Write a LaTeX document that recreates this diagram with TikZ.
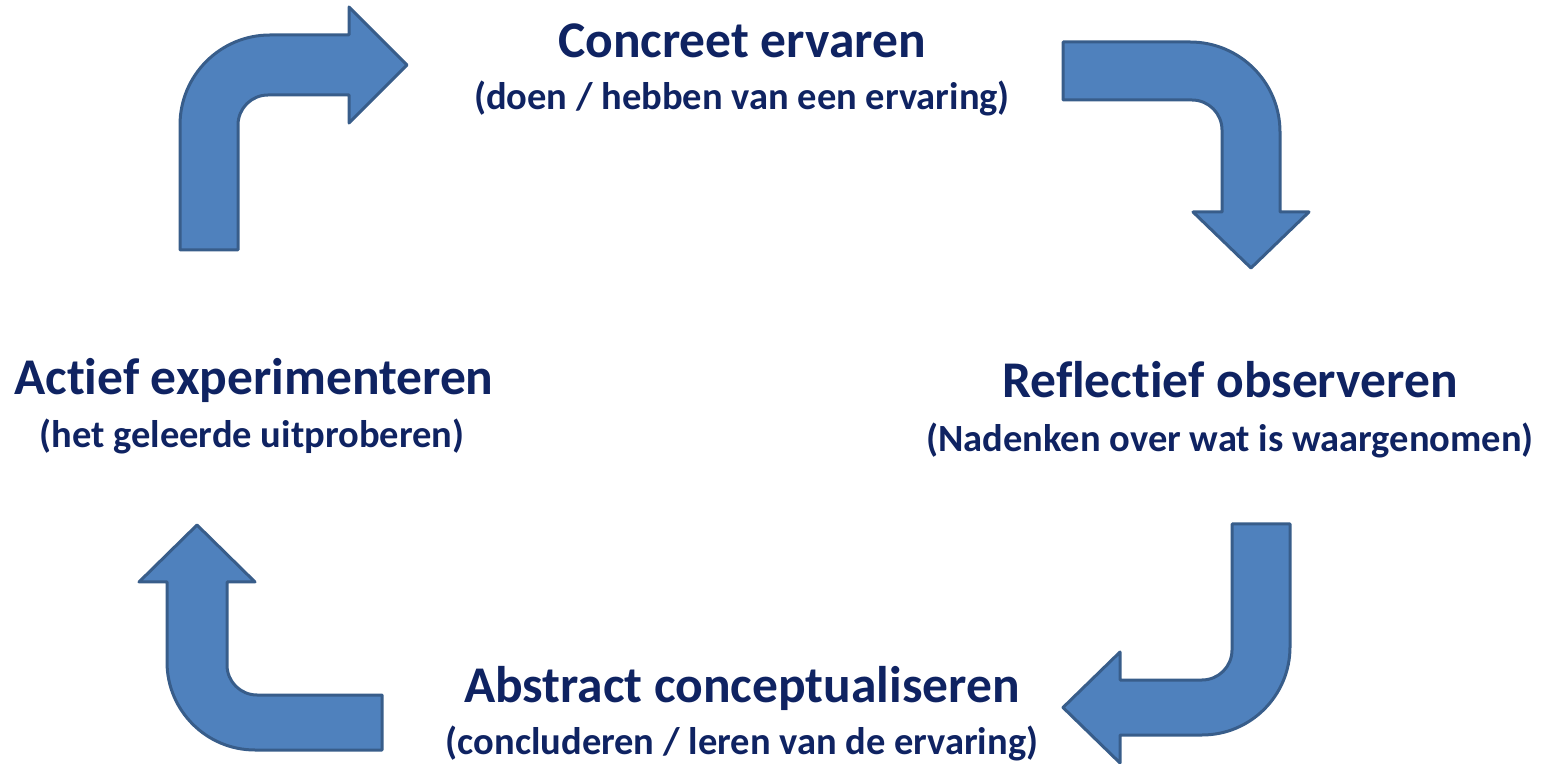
\documentclass[tikz,border=0pt]{standalone}
\usepackage{fontspec}
\setmainfont[Ligatures=NoCommon]{Carlito}
\definecolor{arrowfill}{HTML}{4F81BD}
\definecolor{arrowline}{HTML}{385D8A}
\definecolor{navy}{HTML}{0F2362}
\begin{document}
\begin{tikzpicture}[
        x=1pt, y=1pt,
        bent/.style={fill=arrowfill, draw=arrowline, line width=3pt, line join=round},
        title/.style={anchor=base, inner sep=0pt, text=navy, font=\fontsize{51.5}{60}\selectfont\bfseries},
        sub/.style={anchor=base, inner sep=0pt, text=navy, font=\fontsize{38.5}{44}\selectfont\bfseries}
    ]
    \useasboundingbox (0,0) rectangle (1549,763);

    \node[title] (concreet) at (742,705) {Concreet ervaren};
    \node[sub] (concreetsub) at (742,653) {(doen / hebben van een ervaring)};
    \node[title] (reflectief) at (1230,365) {Reflectief observeren};
    \node[sub] (reflectiefsub) at (1230,311) {(Nadenken over wat is waargenomen)};
    \node[title] (abstract) at (742,61) {Abstract conceptualiseren};
    \node[sub] (abstractsub) at (742,9) {(concluderen / leren van de ervaring)};
    \node[title] (actief) at (254,368) {Actief experimenteren};
    \node[sub] (actiefsub) at (252,315) {(het geleerde uitproberen)};

    % top left
    \draw[bent] (180,513) -- (180,638) arc[start angle=180, end angle=90, radius=90]
        -- (349,728) -- (349,756) -- (407,698) -- (349,640) -- (349,668) -- (268,668)
        arc[start angle=90, end angle=180, radius=30] -- (238,513) -- cycle;
    % top right
    \draw[bent] (1063,721) -- (1190,721) arc[start angle=90, end angle=0, radius=90]
        -- (1280,551) -- (1309,551) -- (1251,495) -- (1193,551) -- (1222,551) -- (1222,633)
        arc[start angle=0, end angle=90, radius=30] -- (1063,663) -- cycle;
    % bottom right
    \draw[bent] (1232,239) -- (1232,113) arc[start angle=0, end angle=-90, radius=30]
        -- (1120,83) -- (1120,111) -- (1063,55.5) -- (1120,0) -- (1120,28) -- (1202,28)
        arc[start angle=-90, end angle=0, radius=88] -- (1290,239) -- cycle;
    % bottom left
    \draw[bent] (382,68) -- (257,68) arc[start angle=270, end angle=180, radius=30]
        -- (227,181) -- (255,181) -- (197,238) -- (139,181) -- (167,181) -- (167,101)
        arc[start angle=180, end angle=270, radius=88] -- (382,13) -- cycle;

\end{tikzpicture}
\end{document}
